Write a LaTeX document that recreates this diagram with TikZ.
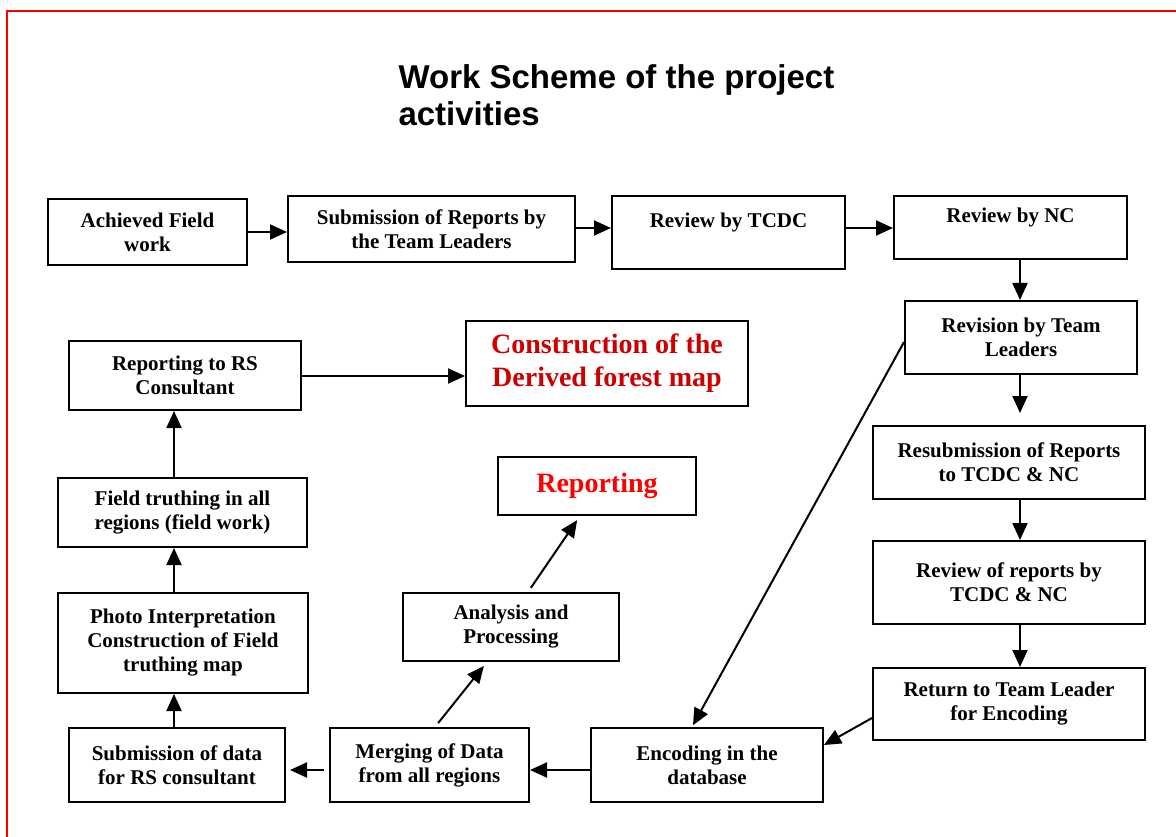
\documentclass[tikz,border=0pt]{standalone}
\usepackage{fontspec}
\setmainfont{Liberation Serif}
\newfontfamily\titlefont{Liberation Sans}
\usepackage{xcolor}
\usepackage{tikz}
\usetikzlibrary{arrows.meta,calc,positioning}

\definecolor{darkred}{HTML}{CC0000}

\tikzset{
  box/.style={draw, line width=2pt, align=center, inner sep=2pt,
    font=\fontsize{21}{24}\selectfont\bfseries},
  redbox/.style={box, font=\fontsize{28}{33}\selectfont\bfseries},
  arr/.style={line width=2pt, -{Triangle[length=17pt,width=15pt]}}
}

\begin{document}
\begin{tikzpicture}[x=1pt,y=-1pt]

\useasboundingbox (0,0) rectangle (1176,837);
\draw[red, line width=2pt] (7,837) -- (7,11) -- (1176,11);% frame

\node[anchor=west, align=left, font=\titlefont\fontsize{33}{37}\selectfont\bfseries] (title) at (395,95.5) {Work Scheme of the project\\activities};

% top row
\node[box, minimum width=199pt, minimum height=66pt] (ach) at (147.5,232) {Achieved Field\\work};
\node[box, minimum width=287pt, minimum height=66pt] (sub) at (431.5,229) {Submission of Reports by\\the Team Leaders};
\node[box, minimum width=233pt, minimum height=73pt] (tcdc) at (728.5,232.5) {Review by TCDC\\ \mbox{}};
\node[box, minimum width=233pt, minimum height=63pt] (nc) at (1010.5,227.5) {Review by NC\\ \mbox{}};

% right column
\node[box, minimum width=232pt, minimum height=73pt] (rev) at (1021,337.5) {Revision by Team\\Leaders};
\node[box, minimum width=272pt, minimum height=73pt] (resub) at (1009,462.5) {Resubmission of Reports\\to TCDC \& NC};
\node[box, minimum width=272pt, minimum height=83pt] (revrep) at (1009,582.5) {Review of reports by\\TCDC \& NC};
\node[box, minimum width=272pt, minimum height=72pt] (ret) at (1009,704) {Return to Team Leader\\for Encoding};

% bottom row
\node[box, minimum width=232pt, minimum height=74pt] (enc) at (707,765) {Encoding in the\\database};
\node[box, minimum width=199pt, minimum height=74pt] (merge) at (429.5,765) {Merging of Data\\from all regions};
\node[box, minimum width=216pt, minimum height=74pt] (subdata) at (177,765) {Submission of data\\for RS consultant};

% left column
\node[box, minimum width=250pt, minimum height=100pt] (photo) at (183,643) {Photo Interpretation\\Construction of Field\\truthing map};
\node[box, minimum width=249pt, minimum height=69pt] (field) at (182.5,512.5) {Field truthing in all\\regions (field work)};
\node[box, minimum width=232pt, minimum height=69pt] (reprs) at (185,375.5) {Reporting to RS\\Consultant};

% middle
\node[redbox, text=darkred, minimum width=282pt, minimum height=85pt] (constr) at (607,363.5) {Construction of the\\Derived forest map\rule[-3pt]{0pt}{1pt}};
\node[redbox, text=red, minimum width=198pt, minimum height=58pt] (report) at (597,486) {Reporting};
\node[box, minimum width=216pt, minimum height=68pt] (anal) at (511,627) {Analysis and\\Processing};

% arrows
\draw[arr] (ach.east) -- (ach.east -| sub.west);
\draw[arr] ([yshift=1pt]sub.east) -- ([yshift=1pt]sub.east -| tcdc.west);
\draw[arr] ([yshift=4.5pt]tcdc.east) -- ([yshift=4.5pt]tcdc.east -| nc.west);
\draw[arr] ([xshift=9.5pt]nc.south) -- ([xshift=9.5pt]nc.south |- rev.north);
\draw[arr, shorten >=12pt] ([xshift=-1pt]rev.south) -- ([xshift=-1pt]rev.south |- resub.north);
\draw[arr] ([xshift=11pt]resub.south) -- ([xshift=11pt]resub.south |- revrep.north);
\draw[arr] ([xshift=11pt]revrep.south) -- ([xshift=11pt]revrep.south |- ret.north);
\draw[arr] ([yshift=-14pt]ret.west) -- ([yshift=20pt]enc.east);
\draw[arr, shorten >=2pt] ([yshift=-4.5pt]rev.west) -- ([xshift=-15pt]enc.north);
\draw[arr] ([yshift=-5pt]enc.west) -- ([yshift=-5pt]merge.east);
\draw[arr, shorten <=5pt, shorten >=4pt] ([yshift=-5pt]merge.west) -- ([yshift=-5pt]subdata.east);
\draw[arr, shorten <=5pt, shorten >=5pt] ([xshift=5.5pt]merge.north) -- ([xshift=-24pt]anal.south);
\draw[arr, shorten <=5pt, shorten >=5pt] ([xshift=17pt]anal.north) -- ([xshift=-17pt]report.south);
\draw[arr] ([xshift=-3pt]subdata.north) -- ([xshift=-3pt]subdata.north |- photo.south);
\draw[arr] ([xshift=-9pt]photo.north) -- ([xshift=-9pt]photo.north |- field.south);
\draw[arr] ([xshift=-8.5pt]field.north) -- ([xshift=-8.5pt]field.north |- reprs.south);
\draw[arr] ([yshift=-0.5pt]reprs.east) -- ([yshift=-0.5pt]reprs.east -| constr.west);

\end{tikzpicture}
\end{document}
